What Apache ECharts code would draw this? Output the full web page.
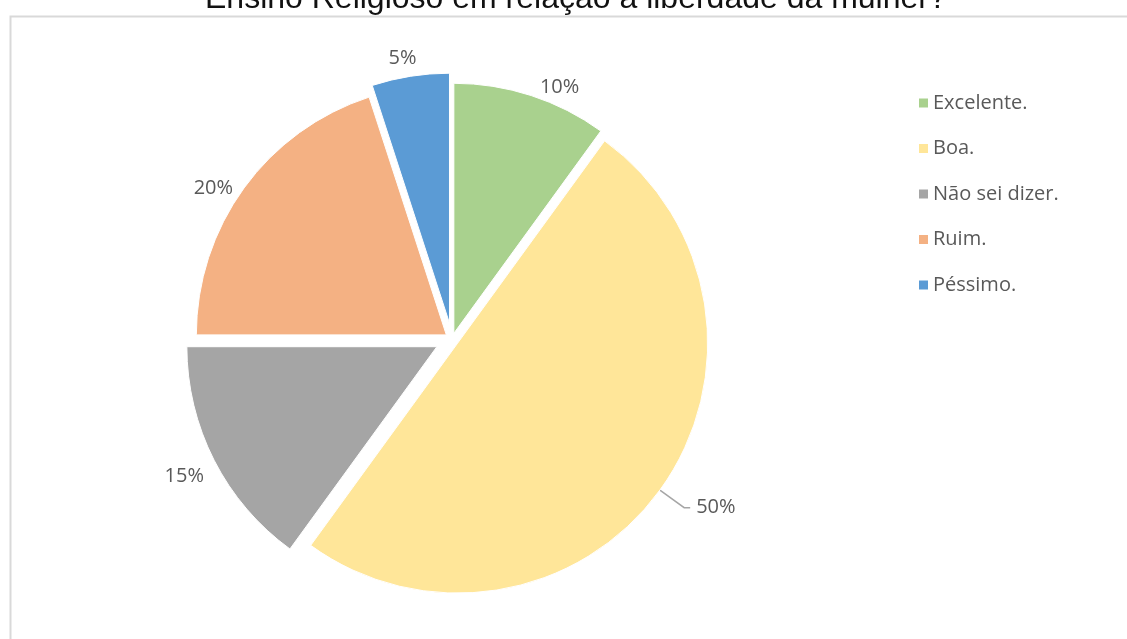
<!DOCTYPE html>
<html>
<head>
<meta charset="utf-8">
<script src="https://cdn.jsdelivr.net/npm/echarts@6/dist/echarts.min.js"></script>
<style>
  html, body { margin: 0; padding: 0; background: #ffffff; }
  #chart { width: 1127px; height: 639px; }
</style>
</head>
<body>
<div id="chart"></div>
<script>
// Survey answers and their shares (%)
const categories = ['Excelente.', 'Boa.', 'Não sei dizer.', 'Ruim.', 'Péssimo.'];
const shares = [10, 50, 15, 20, 5];
const chartTitle = 'Ensino Religioso em relação à liberdade da mulher?';

// Slice colours and how far each slice is pulled out of the pie
const sliceColors = ['#A9D18E', '#FFE699', '#A5A5A5', '#F4B183', '#5B9BD5'];
const explode = [6, 7, 17, 7, 16];
// Label placement along each slice's mid-angle: [length, length2, gap]
const labelGuides = [[9, 6, 0], [30, 6, 6], [36, -22, 0], [0, 11, 0], [18, -9, 0]];
const guideShown = [false, true, false, false, false];

const FONT = '"Open Sans", "Noto Sans", sans-serif';
const TEXT_GREY = '#595959';

// One pie series per slice: every series carries the full data set so the
// library computes the angles, but only its own slice is painted and
// pulled out by its own distance.
const series = categories.map(function (_, k) {
  return {
    type: 'pie',
    center: [452, 339],
    radius: 250,
    startAngle: 90,
    clockwise: true,
    selectedMode: 'multiple',
    selectedOffset: explode[k],
    avoidLabelOverlap: false,
    silent: true,
    emphasis: { disabled: true },
    z: 2,
    data: categories.map(function (name, i) {
      const own = i === k;
      return {
        name: name,
        value: shares[i],
        selected: own,
        itemStyle: own
          ? { color: sliceColors[i], borderColor: '#ffffff', borderWidth: 1 }
          : { color: 'rgba(0,0,0,0)', borderWidth: 0 },
        label: own
          ? {
              show: true,
              position: 'outside',
              formatter: '{c}%',
              color: TEXT_GREY,
              fontFamily: FONT,
              fontSize: 20,
              distanceToLabelLine: labelGuides[i][2]
            }
          : { show: false },
        labelLine: {
          show: own && guideShown[i],
          length: labelGuides[i][0],
          length2: labelGuides[i][1],
          smooth: false,
          lineStyle: { color: '#A6A6A6', width: 1.5 }
        }
      };
    })
  };
});

const chart = echarts.init(document.getElementById('chart'), null, { renderer: 'canvas' });
chart.setOption({
  animation: false,
  backgroundColor: '#ffffff',
  title: {
    text: chartTitle,
    left: 205,
    top: -17,
    padding: 0,
    textStyle: {
      fontFamily: '"Liberation Sans", Arial, sans-serif',
      fontSize: 32,
      fontWeight: 'normal',
      color: '#111111'
    }
  },
  graphic: [{
    type: 'rect',
    left: 8,
    top: 14,
    silent: true,
    z: -10,
    shape: { width: 1200, height: 700 },
    style: { fill: 'none', stroke: '#D9D9D9', lineWidth: 2 }
  }],
  legend: {
    orient: 'vertical',
    left: 914,
    top: 88,
    itemWidth: 9,
    itemHeight: 9,
    itemGap: 25.5,
    icon: 'rect',
    selectedMode: false,
    data: categories.map(function (name, i) {
      return { name: name, itemStyle: { color: sliceColors[i], opacity: 1, borderWidth: 0 } };
    }),
    textStyle: {
      color: TEXT_GREY,
      fontFamily: FONT,
      fontSize: 20,
      padding: [0, 0, 0, 0]
    }
  },
  series: series
});
</script>
</body>
</html>
